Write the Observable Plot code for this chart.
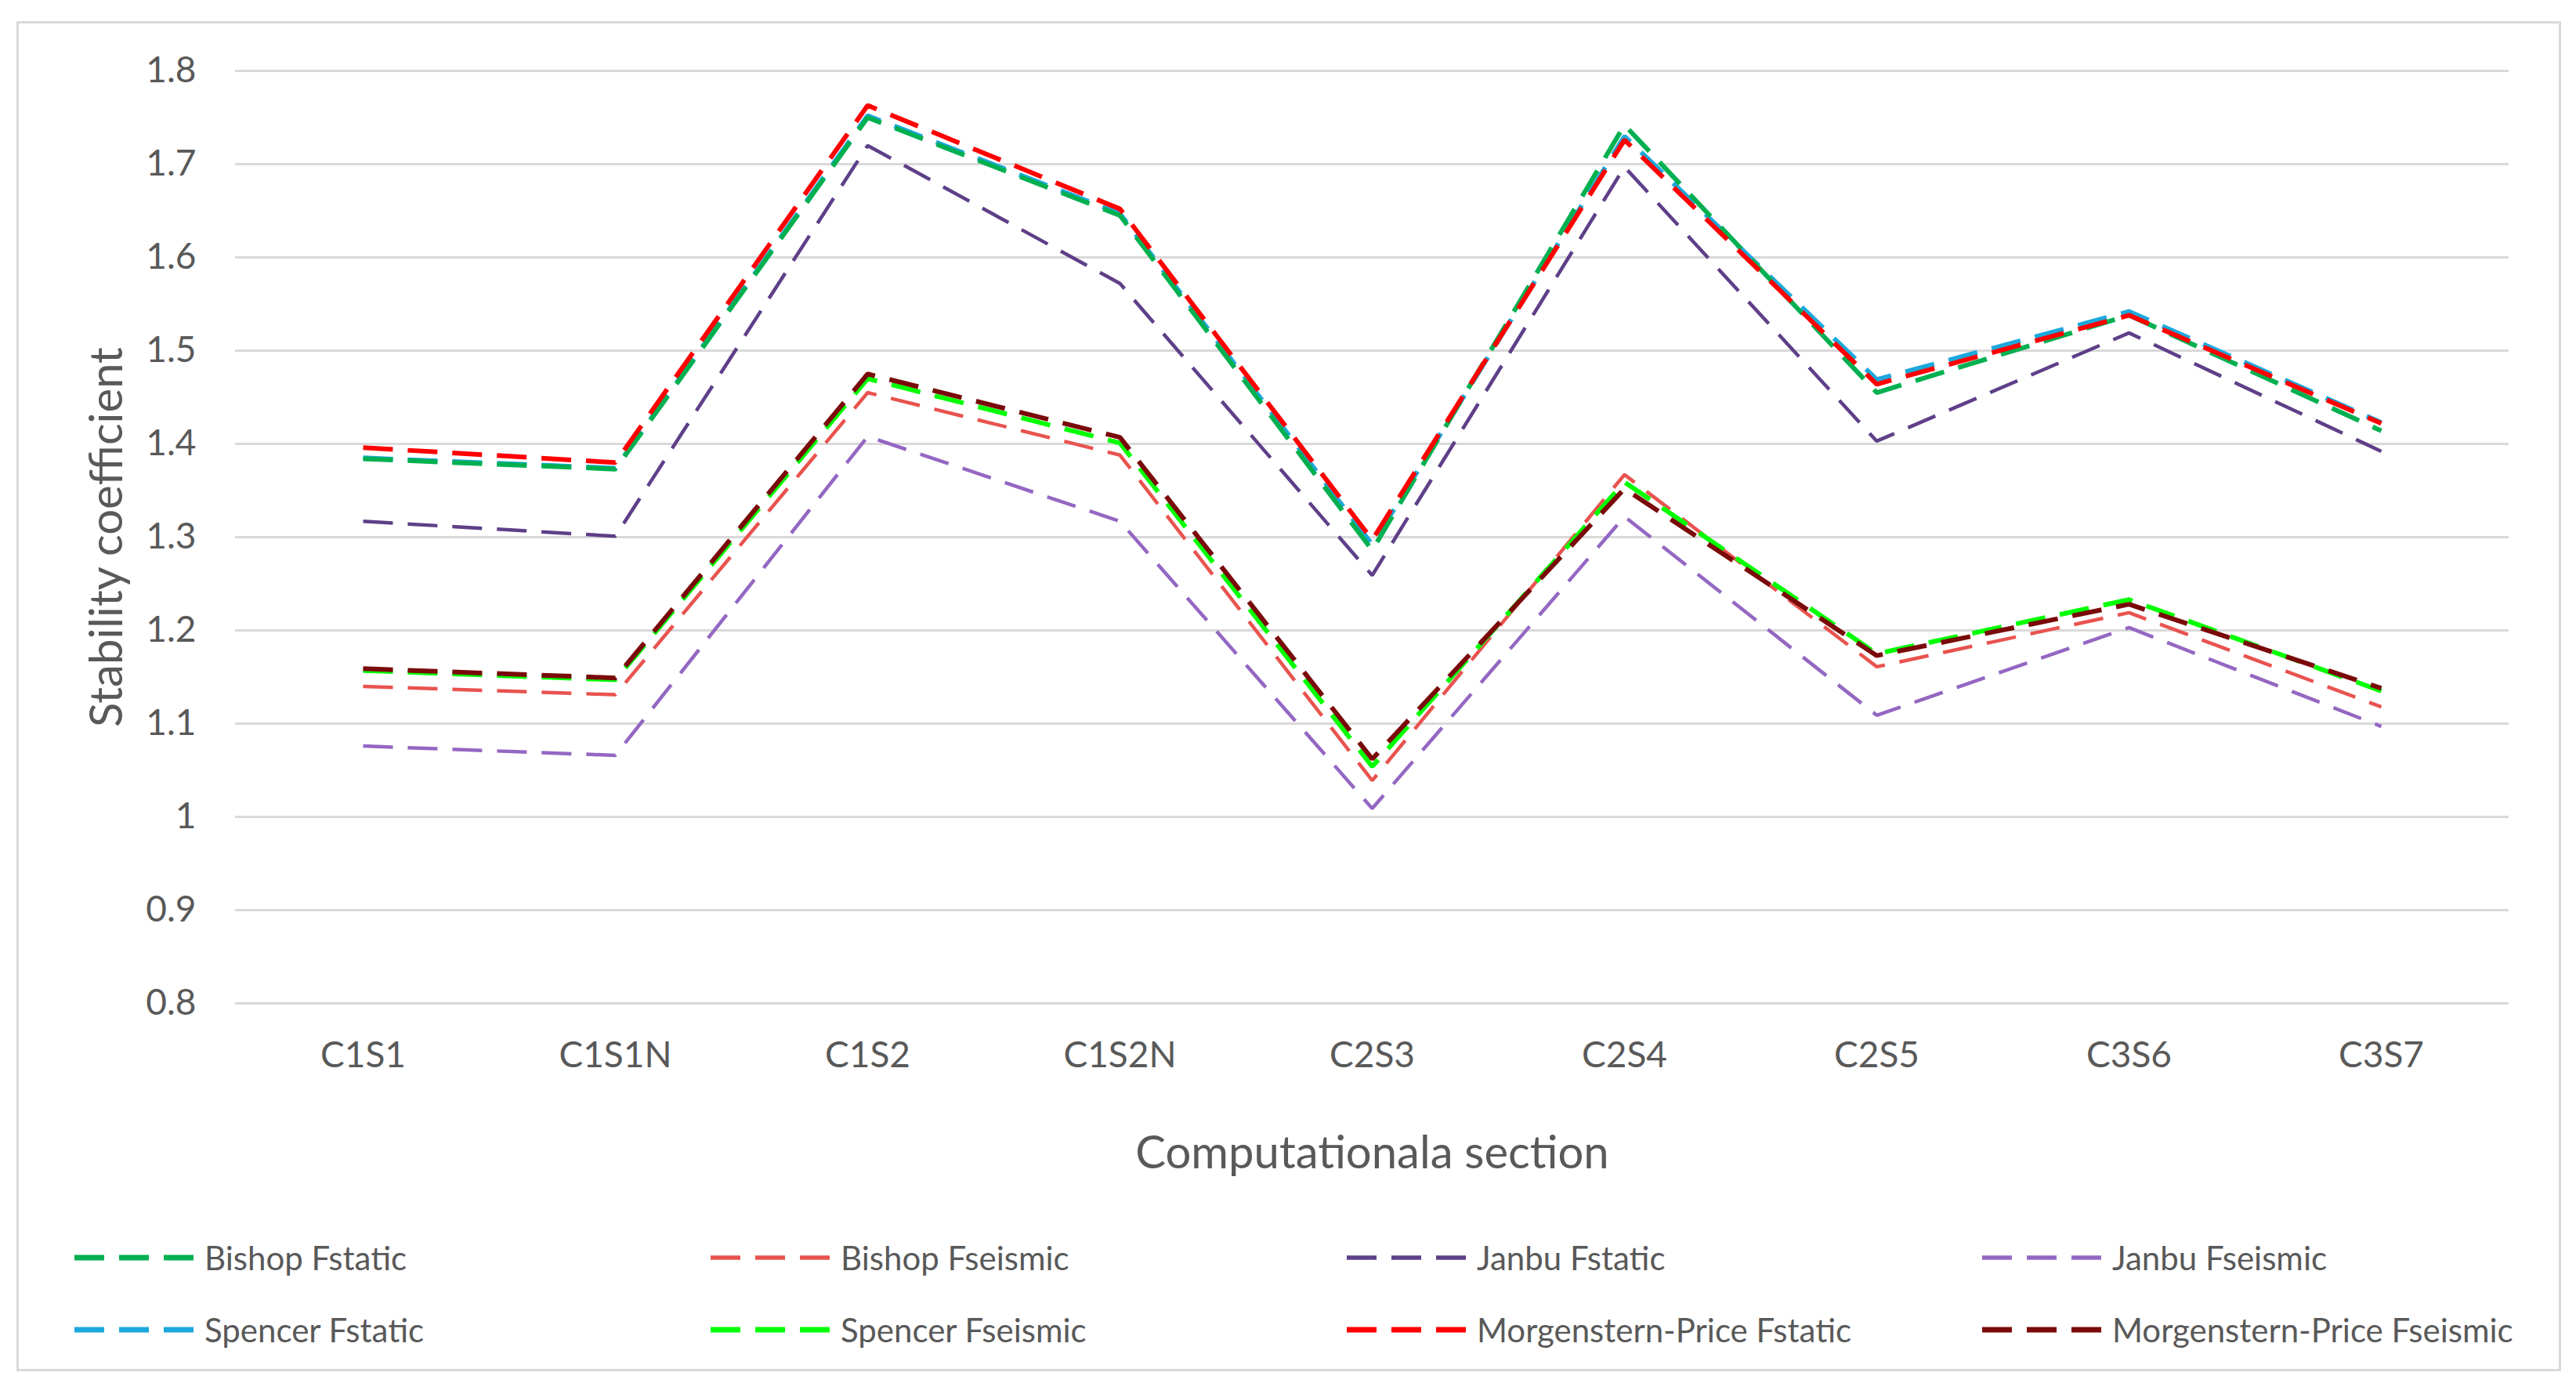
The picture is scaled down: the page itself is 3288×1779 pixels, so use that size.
<!DOCTYPE html>
<html>
<head>
<meta charset="utf-8">
<script src="https://cdn.jsdelivr.net/npm/d3@7"></script>
<script src="https://cdn.jsdelivr.net/npm/@observablehq/plot@0.6"></script>
<style>
  html, body { margin: 0; padding: 0; background: #fff; }
  #wrap { position: relative; width: 3288px; height: 1779px; overflow: hidden; font-family: Lato, "Open Sans", sans-serif; color: #595959; }
  #frame { position: absolute; left: 21px; top: 27px; width: 3242px; height: 1717px; border: 3px solid #d9d9d9; }
  #chart { position: absolute; left: 0; top: 0; }
  .leg { position: absolute; display: flex; align-items: center; font-size: 42px; white-space: nowrap; }
  .leg svg { margin-right: 14px; }
</style>
</head>
<body>
<div id="wrap">
  <div id="frame"></div>
  <div id="chart"></div>
  <div id="legend"></div>
</div>
<script>
// ---- data ----
const categories = ["C1S1", "C1S1N", "C1S2", "C1S2N", "C2S3", "C2S4", "C2S5", "C3S6", "C3S7"];
const bishopStatic   = [1.384, 1.373, 1.750, 1.645, 1.286, 1.742, 1.455, 1.538, 1.414];
const bishopSeismic  = [1.140, 1.131, 1.455, 1.388, 1.039, 1.367, 1.161, 1.219, 1.118];
const janbuStatic    = [1.317, 1.301, 1.720, 1.572, 1.259, 1.697, 1.403, 1.519, 1.392];
const janbuSeismic   = [1.076, 1.066, 1.408, 1.317, 1.009, 1.322, 1.109, 1.203, 1.097];
const spencerStatic  = [1.385, 1.374, 1.752, 1.647, 1.292, 1.730, 1.469, 1.542, 1.423];
const spencerSeismic = [1.157, 1.147, 1.470, 1.401, 1.054, 1.359, 1.175, 1.233, 1.135];
const mpStatic       = [1.396, 1.380, 1.763, 1.652, 1.297, 1.726, 1.464, 1.538, 1.422];
const mpSeismic      = [1.159, 1.149, 1.475, 1.407, 1.062, 1.352, 1.173, 1.228, 1.138];

const seriesNames = ["Bishop Fstatic", "Bishop Fseismic", "Janbu Fstatic", "Janbu Fseismic",
                     "Spencer Fstatic", "Spencer Fseismic", "Morgenstern-Price Fstatic", "Morgenstern-Price Fseismic"];
const seriesValues = [bishopStatic, bishopSeismic, janbuStatic, janbuSeismic,
                      spencerStatic, spencerSeismic, mpStatic, mpSeismic];
const seriesColors = ["#00b050", "#e8534f", "#5e3f88", "#9467c2", "#1ca8dc", "#00ff00", "#ff0000", "#7a0a0a"];
const seriesWidths = [6, 4.5, 4.5, 4.5, 6, 6, 6, 6];
// drawing order (Spencer Fstatic mostly hidden beneath Bishop Fstatic)
const drawOrder = [4, 0, 1, 2, 3, 5, 6, 7];

const yTicks = [0.8, 0.9, 1, 1.1, 1.2, 1.3, 1.4, 1.5, 1.6, 1.7, 1.8];
const xTitle = "Computationala section";
const yTitle = "Stability coefficient";

// ---- chart ----
const rows = seriesNames.map((name, i) => categories.map((c, j) => ({series: name, cat: c, value: seriesValues[i][j]})));

const lineMarks = drawOrder.map(i => Plot.line(rows[i], {
  x: "cat", y: "value",
  stroke: seriesColors[i], strokeWidth: seriesWidths[i],
  strokeDasharray: "38,19", strokeLinecap: "butt", strokeLinejoin: "miter"
}));

const chart = Plot.plot({
  width: 3288,
  height: 1560,
  marginLeft: 300,
  marginRight: 86,
  marginTop: 90,
  marginBottom: 280,
  style: {fontFamily: "Lato, 'Open Sans', sans-serif", fontSize: "46px", color: "#595959", background: "transparent"},
  x: {type: "point", domain: categories, padding: 0.5, label: null},
  y: {domain: [0.8, 1.8], label: null},
  marks: [
    Plot.gridY(yTicks, {stroke: "#d9d9d9", strokeOpacity: 1, strokeWidth: 3}),
    Plot.axisY(yTicks, {tickSize: 0, tickPadding: 50, tickFormat: d => String(d), fontSize: 46, label: null}),
    Plot.axisX(categories, {tickSize: 0, tickPadding: 49, fontSize: 46, label: null}),
    ...lineMarks,
    Plot.text([xTitle], {text: d => d, frameAnchor: "bottom", dy: 192, fontSize: 58, lineAnchor: "middle", textAnchor: "middle", fill: "#595959"}),
    Plot.text([yTitle], {text: d => d, frameAnchor: "left", dx: -163, rotate: -90, fontSize: 58, lineAnchor: "middle", textAnchor: "middle", fill: "#595959"})
  ]
});
document.getElementById("chart").appendChild(chart);

// ---- legend ----
const legend = document.getElementById("legend");
const colX = [95, 907, 1719, 2530];
const rowY = [1605, 1697];
seriesNames.forEach((name, i) => {
  const col = i % 4, row = Math.floor(i / 4);
  const el = document.createElement("div");
  el.className = "leg";
  el.style.left = colX[col] + "px";
  el.style.top = (rowY[row] - 30) + "px";
  el.style.height = "60px";
  el.innerHTML = `<svg width="152" height="20"><line x1="0" y1="10" x2="152" y2="10" stroke="${seriesColors[i]}" stroke-width="${seriesWidths[i] + 1}" stroke-dasharray="38,19"/></svg><span>${name}</span>`;
  legend.appendChild(el);
});
</script>
</body>
</html>
